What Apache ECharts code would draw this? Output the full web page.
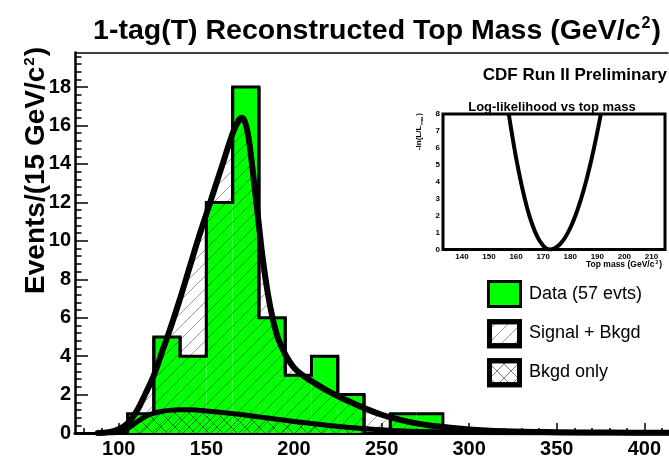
<!DOCTYPE html>
<html><head><meta charset="utf-8">
<script src="https://cdn.jsdelivr.net/npm/echarts@6/dist/echarts.min.js"></script>
<style>html,body{margin:0;padding:0;background:#fff}#c{width:669px;height:461px}</style>
</head><body><div id="c"></div>
<script>
// ---------------- data ----------------
const binLow = [105, 120, 135, 150, 165, 180, 195, 210, 225, 240, 255, 270];
const binWidth = 15;
const counts = [1, 5, 4, 12, 18, 6, 3, 4, 2, 0, 1, 1];

const sigX = [88, 95, 100, 105, 110, 115, 120, 125, 130, 135, 140, 145, 150, 155, 160, 165, 168, 170, 172, 174, 176, 178, 180, 182, 185, 188, 191, 195, 200, 205, 210, 220, 230, 240, 250, 260, 270, 280, 300, 320, 350, 380, 420];
const sigY = [0.0, 0.05, 0.2, 0.5, 1.1, 2.0, 3.0, 4.3, 5.6, 7.0, 8.5, 10.0, 11.4, 12.8, 14.2, 15.6, 16.2, 16.4, 16.2, 15.4, 14.0, 12.4, 10.8, 9.2, 7.3, 5.9, 4.9, 4.1, 3.4, 3.0, 2.7, 2.15, 1.7, 1.3, 0.95, 0.7, 0.5, 0.36, 0.18, 0.09, 0.04, 0.02, 0.01];

const bkgX = [95, 100, 105, 110, 115, 120, 125, 130, 135, 140, 145, 150, 160, 170, 180, 190, 200, 210, 220, 230, 240, 250, 260, 280, 300, 350, 420];
const bkgY = [0.0, 0.05, 0.25, 0.55, 0.85, 1.03, 1.13, 1.19, 1.21, 1.21, 1.19, 1.15, 1.06, 0.96, 0.84, 0.72, 0.6, 0.49, 0.39, 0.3, 0.23, 0.17, 0.12, 0.06, 0.03, 0.005, 0.0];

const lnlX = [157.3, 158, 160, 162, 164, 166, 168, 170, 171, 172.5, 174, 176, 178, 180, 182, 184, 186, 188, 190, 191.3];
const lnlY = [8.0, 7.28, 5.41, 3.82, 2.5, 1.46, 0.7, 0.22, 0.08, 0.0, 0.05, 0.28, 0.68, 1.27, 2.04, 2.99, 4.12, 5.43, 6.93, 8.0];

const xMajor = [100, 150, 200, 250, 300, 350, 400];
const xMinor = [80, 90, 110, 120, 130, 140, 160, 170, 180, 190, 210, 220, 230, 240, 260, 270, 280, 290, 310, 320, 330, 340, 360, 370, 380, 390, 410];
const yMajor = [0, 2, 4, 6, 8, 10, 12, 14, 16, 18];

const inXMajor = [140, 150, 160, 170, 180, 190, 200, 210];
const inXMinor = [134, 136, 138, 142, 144, 146, 148, 152, 154, 156, 158, 162, 164, 166, 168, 172, 174, 176, 178, 182, 184, 186, 188, 192, 194, 196, 198, 202, 204, 206, 208, 212, 214];

// ---------------- patterns ----------------
function hatch(size, dirs, color, lw) {
  const c = document.createElement('canvas');
  c.width = size; c.height = size;
  const g = c.getContext('2d');
  g.strokeStyle = color; g.lineWidth = lw;
  g.beginPath();
  if (dirs.indexOf('/') >= 0) {
    g.moveTo(-2, size + 2); g.lineTo(size + 2, -2);
    g.moveTo(-2, 2); g.lineTo(2, -2);
    g.moveTo(size - 2, size + 2); g.lineTo(size + 2, size - 2);
  }
  if (dirs.indexOf('\\') >= 0) {
    g.moveTo(-2, -2); g.lineTo(size + 2, size + 2);
    g.moveTo(size - 2, -2); g.lineTo(size + 2, 2);
    g.moveTo(-2, size - 2); g.lineTo(2, size + 2);
  }
  g.stroke();
  return { image: c, repeat: 'repeat' };
}
const patSig = hatch(13, '/', 'rgba(0,0,0,0.38)', 1);
const patBkg = hatch(14, '/\\', 'rgba(0,0,0,0.5)', 1);

const FONT = "'Liberation Sans', Arial, Helvetica, sans-serif";

// ---------------- helpers ----------------
const binItems = binLow.map((lo, i) => [lo, lo + binWidth, counts[i], i > 0 ? counts[i - 1] : 0, i < counts.length - 1 ? counts[i + 1] : 0]);
const sigData = sigX.map((x, i) => [x, sigY[i]]);
const bkgData = bkgX.map((x, i) => [x, bkgY[i]]);
const lnlData = lnlX.map((x, i) => [x, lnlY[i]]);

const chart = echarts.init(document.getElementById('c'), null, { renderer: 'canvas' });

const option = {
  animation: false,
  backgroundColor: '#fff',
  textStyle: { fontFamily: FONT },
  grid: [
    { left: 75, right: 1, top: 52.5, bottom: 28, containLabel: false },
    { left: 443, top: 114, width: 222, height: 135.5, show: true, backgroundColor: '#fff', borderColor: '#000', borderWidth: 3, z: 1 }
  ],
  xAxis: [
    { type: 'value', gridIndex: 0, position: 'bottom', min: 75, max: 413.5,
      axisLine: { show: true, onZero: false, lineStyle: { color: '#000', width: 3 } },
      axisTick: { show: true, inside: true, length: 10, customValues: xMajor, lineStyle: { color: '#000', width: 1.5 } },
      axisLabel: { show: true, customValues: xMajor, margin: 6, color: '#000', fontSize: 20, fontWeight: 'bold', fontFamily: FONT },
      splitLine: { show: false } },
    { type: 'value', gridIndex: 0, position: 'bottom', min: 75, max: 413.5,
      axisLine: { show: false, onZero: false },
      axisTick: { show: true, inside: true, length: 5, customValues: xMinor, lineStyle: { color: '#000', width: 1.5 } },
      axisLabel: { show: false }, splitLine: { show: false } },
    { type: 'value', gridIndex: 0, position: 'top', min: 75, max: 413.5,
      axisLine: { show: true, onZero: false, lineStyle: { color: '#000', width: 1.5 } },
      axisTick: { show: false }, axisLabel: { show: false }, splitLine: { show: false } },
    { type: 'value', gridIndex: 1, position: 'bottom', min: 133, max: 215,
      axisLine: { show: false, onZero: false },
      axisTick: { show: true, inside: true, length: 4, customValues: inXMajor, lineStyle: { color: '#000', width: 1.2 } },
      axisLabel: { show: true, customValues: inXMajor, margin: 3, color: '#000', fontSize: 8, fontWeight: 'bold', fontFamily: FONT },
      splitLine: { show: false } },
    { type: 'value', gridIndex: 1, position: 'bottom', min: 133, max: 215,
      axisLine: { show: false, onZero: false },
      axisTick: { show: true, inside: true, length: 2, customValues: inXMinor, lineStyle: { color: '#000', width: 1 } },
      axisLabel: { show: false }, splitLine: { show: false } }
  ],
  yAxis: [
    { type: 'value', gridIndex: 0, position: 'left', min: 0, max: 19.8, interval: 2,
      axisLine: { show: true, onZero: false, lineStyle: { color: '#000', width: 2.5 } },
      axisTick: { show: true, inside: true, length: 13, customValues: yMajor, lineStyle: { color: '#000', width: 1.5 } },
      minorTick: { show: true, splitNumber: 5, length: 6.5, lineStyle: { color: '#000', width: 1.5 } },
      axisLabel: { show: true, customValues: yMajor, margin: 4, color: '#000', fontSize: 20, fontWeight: 'bold', fontFamily: FONT },
      splitLine: { show: false } },
    { type: 'value', gridIndex: 1, position: 'left', min: 0, max: 8, interval: 1,
      axisLine: { show: false, onZero: false },
      axisTick: { show: true, inside: true, length: 4, lineStyle: { color: '#000', width: 1.2 } },
      minorTick: { show: true, splitNumber: 5, length: 2, lineStyle: { color: '#000', width: 1 } },
      axisLabel: { show: true, margin: 3, color: '#000', fontSize: 8, fontWeight: 'bold', fontFamily: FONT },
      splitLine: { show: false } }
  ],
  graphic: [
    { type: 'text', x: 377, y: 31, z: 10,
      style: { text: '{t|1-tag(T) Reconstructed Top Mass (GeV/c}{s|2}{t|)}', align: 'center', verticalAlign: 'middle',
        rich: {
          t: { fontFamily: FONT, fontWeight: 'bold', fontSize: 28.5, fill: '#000' },
          s: { fontFamily: FONT, fontWeight: 'bold', fontSize: 16, fill: '#000', padding: [0, 1, 14, 1] } } } },
    { type: 'text', x: 667, y: 75, z: 10,
      style: { text: 'CDF Run II Preliminary', align: 'right', verticalAlign: 'middle', fontFamily: FONT, fontWeight: 'bold', fontSize: 17, fill: '#000' } },
    { type: 'text', x: 552, y: 107, z: 10,
      style: { text: 'Log-likelihood vs top mass', align: 'center', verticalAlign: 'middle', fontFamily: FONT, fontWeight: 'bold', fontSize: 13, fill: '#000' } },
    { type: 'text', x: 36, y: 47, rotation: Math.PI / 2, z: 10,
      style: { text: '{t|Events/(15 GeV/c}{s|2}{t|)}', align: 'right', verticalAlign: 'middle',
        rich: {
          t: { fontFamily: FONT, fontWeight: 'bold', fontSize: 28, fill: '#000' },
          s: { fontFamily: FONT, fontWeight: 'bold', fontSize: 15, fill: '#000', padding: [0, 1, 13, 1] } } } },
    { type: 'text', x: 662, y: 265, z: 10,
      style: { text: '{t|Top mass (GeV/c}{s|2}{t|)}', align: 'right', verticalAlign: 'middle',
        rich: {
          t: { fontFamily: FONT, fontWeight: 'bold', fontSize: 8.5, fill: '#000' },
          s: { fontFamily: FONT, fontWeight: 'bold', fontSize: 5, fill: '#000', padding: [0, 1, 5, 1] } } } },
    { type: 'text', x: 419, y: 113, rotation: Math.PI / 2, z: 10,
      style: { text: '{t|-ln(L/L}{s|max}{t|)}', align: 'right', verticalAlign: 'middle',
        rich: {
          t: { fontFamily: FONT, fontWeight: 'bold', fontSize: 8, fill: '#000' },
          s: { fontFamily: FONT, fontWeight: 'bold', fontSize: 4, fill: '#000', padding: [5, 1, 0, 1] } } } },
    // legend
    { type: 'rect', shape: { x: 488.5, y: 281.5, width: 32, height: 25 }, z: 10,
      style: { fill: '#00ff00', stroke: '#000', lineWidth: 3 } },
    { type: 'rect', shape: { x: 489.5, y: 321.8, width: 30, height: 24 }, z: 10,
      style: { fill: '#fff', stroke: '#000', lineWidth: 5 } },
    { type: 'rect', shape: { x: 489.5, y: 321.8, width: 30, height: 24 }, z: 11,
      style: { fill: patSig, stroke: '#000', lineWidth: 5 } },
    { type: 'rect', shape: { x: 489.5, y: 360.8, width: 30, height: 24 }, z: 10,
      style: { fill: '#fff', stroke: '#000', lineWidth: 5 } },
    { type: 'rect', shape: { x: 489.5, y: 360.8, width: 30, height: 24 }, z: 11,
      style: { fill: patBkg, stroke: '#000', lineWidth: 5 } },
    { type: 'text', x: 529, y: 294, z: 10, style: { text: 'Data (57 evts)', fontFamily: FONT, fontSize: 18, fill: '#000', verticalAlign: 'middle' } },
    { type: 'text', x: 529, y: 333.5, z: 10, style: { text: 'Signal + Bkgd', fontFamily: FONT, fontSize: 18, fill: '#000', verticalAlign: 'middle' } },
    { type: 'text', x: 529, y: 372.5, z: 10, style: { text: 'Bkgd only', fontFamily: FONT, fontSize: 18, fill: '#000', verticalAlign: 'middle' } }
  ],
  series: [
    { type: 'custom', name: 'Data fill', xAxisIndex: 0, yAxisIndex: 0, z: 1, data: binItems,
      encode: { x: [0, 1], y: 2 },
      renderItem: function (params, api) {
        const a = api.coord([api.value(0), api.value(2)]);
        const b = api.coord([api.value(1), 0]);
        return { type: 'rect', shape: { x: a[0], y: a[1], width: b[0] - a[0], height: b[1] - a[1] }, style: { fill: '#00ff00' } };
      } },
    { type: 'line', name: 'Signal area', xAxisIndex: 0, yAxisIndex: 0, z: 2, data: sigData, smooth: 0.4,
      showSymbol: false, symbol: 'none', lineStyle: { width: 0, color: 'transparent' }, areaStyle: { color: patSig, opacity: 1 } },
    { type: 'line', name: 'Bkgd area', xAxisIndex: 0, yAxisIndex: 0, z: 3, data: bkgData, smooth: 0.4,
      showSymbol: false, symbol: 'none', lineStyle: { width: 0, color: 'transparent' }, areaStyle: { color: patBkg, opacity: 1 } },
    { type: 'custom', name: 'Data outline', xAxisIndex: 0, yAxisIndex: 0, z: 4, data: binItems,
      encode: { x: [0, 1], y: 2 },
      renderItem: function (params, api) {
        const lo = api.value(0), hi = api.value(1), h = api.value(2), p = api.value(3), n = api.value(4);
        return { type: 'polyline', shape: { points: [api.coord([lo, p]), api.coord([lo, h]), api.coord([hi, h]), api.coord([hi, n])] },
          style: { fill: null, stroke: '#000', lineWidth: 3, lineJoin: 'miter' } };
      } },
    { type: 'line', name: 'Signal + Bkgd', xAxisIndex: 0, yAxisIndex: 0, z: 5, data: sigData, smooth: 0.4,
      showSymbol: false, symbol: 'none', lineStyle: { width: 6, color: '#000', cap: 'round', join: 'round' } },
    { type: 'line', name: 'Bkgd only', xAxisIndex: 0, yAxisIndex: 0, z: 6, data: bkgData, smooth: 0.4,
      showSymbol: false, symbol: 'none', lineStyle: { width: 5, color: '#000', cap: 'round', join: 'round' } },
    { type: 'line', name: 'LogL', xAxisIndex: 3, yAxisIndex: 1, z: 5, data: lnlData, smooth: 0.4,
      showSymbol: false, symbol: 'none', lineStyle: { width: 4, color: '#000' } }
  ]
};
chart.setOption(option);
</script>
</body></html>
